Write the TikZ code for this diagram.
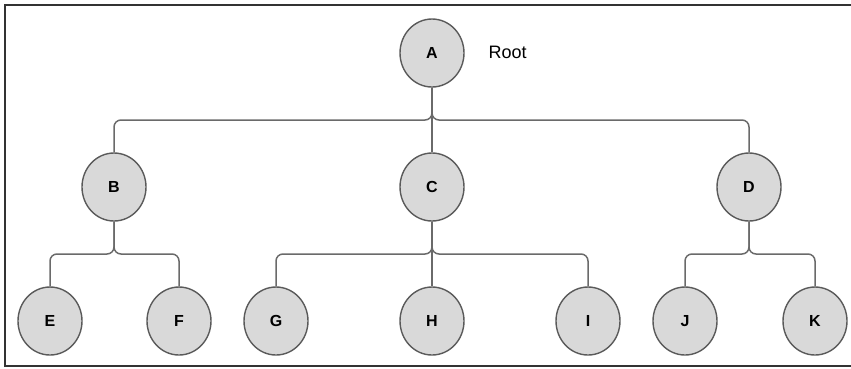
\documentclass[tikz,border=0pt]{standalone}
\usepackage{fontspec}
\setmainfont{Liberation Sans}
\usetikzlibrary{positioning, calc, shapes.geometric}
\definecolor{nodefill}{HTML}{D9D9D9}
\definecolor{nodeline}{HTML}{5A5A5A}
\definecolor{wire}{HTML}{6A6A6A}
\definecolor{frame}{HTML}{333333}

\tikzset{
  treenode/.style={ellipse, draw=nodeline, fill=nodefill, line width=1.4pt,
    minimum width=64pt, minimum height=68pt, inner sep=0pt,
    font=\fontsize{16}{18}\selectfont\bfseries},
  elbow/.style={draw=wire, line width=1.5pt, rounded corners=7pt,
    to path={(\tikztostart) |- ($(\tikztostart)!0.5!(\tikztotarget)$) -| (\tikztotarget)}}
}

\begin{document}
\begin{tikzpicture}[x=1pt, y=-1pt]
    \useasboundingbox (0,0) rectangle (851,368);
    % Rahmen: oben, links, unten
    \draw[frame, line width=2pt] (851,5) -- (5,5) -- (5,366) -- (851,366);
    % Wurzel
    \node[treenode] (A) at (432,53) {A};
    \node[font=\fontsize{18}{20}\selectfont, anchor=west] (rootlabel) at (485,52) {Root};
    % zweite Ebene
    \node[treenode] (B) at (114,187) {B};
    \node[treenode] (C) at (432,187) {C};
    \node[treenode] (D) at (749,187) {D};
    % Blaetter
    \node[treenode] (E) at (50,321) {E};
    \node[treenode] (F) at (179,321) {F};
    \node[treenode] (G) at (276,321) {G};
    \node[treenode] (H) at (432,321) {H};
    \node[treenode] (I) at (588,321) {I};
    \node[treenode] (J) at (685,321) {J};
    \node[treenode] (K) at (815,321) {K};
    % Verbindungen
    \foreach \p/\c in {A/B, A/C, A/D, B/E, B/F, C/G, C/H, C/I, D/J, D/K}
      \draw[elbow] (\p.south) to (\c.north);
\end{tikzpicture}
\end{document}
